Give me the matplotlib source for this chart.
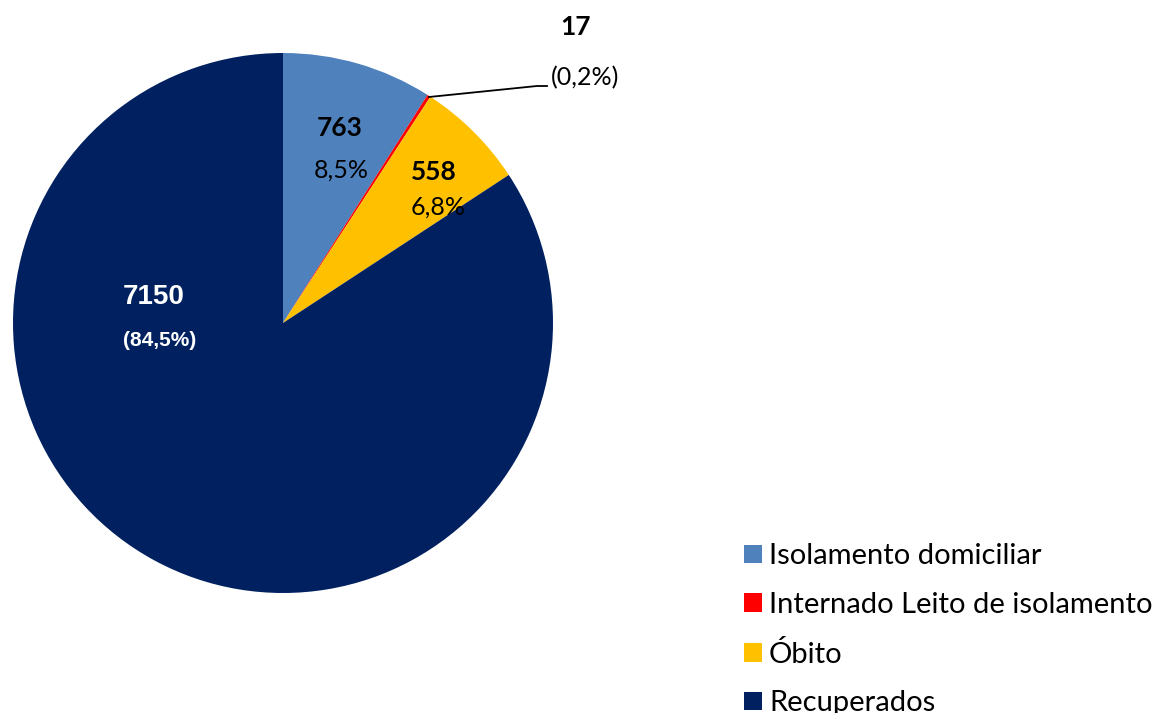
import matplotlib
matplotlib.use("Agg")
import matplotlib.pyplot as plt
from matplotlib.patches import Patch

categorias = ["Isolamento domiciliar", "Internado Leito de isolamento", "Óbito", "Recuperados"]
valores = [763, 17, 558, 7150]
cores = ["#4F81BD", "#FF0000", "#FFC000", "#002060"]
rotulos_valor = ["763", "17", "558", "7150"]
rotulos_pct = ["8,5%", "(0,2%)", "6,8%", "(84,5%)"]

W, H = 1163, 713
fig = plt.figure(figsize=(W / 100, H / 100), dpi=100)

# pie centre at (283, 323) px, radius 270 px
cx, cy, r = 283, 323, 270
ax = fig.add_axes([(cx - r) / W, (H - cy - r) / H, 2 * r / W, 2 * r / H])
ax.pie(valores, colors=cores, startangle=90, counterclock=False, radius=1,
       wedgeprops=dict(linewidth=0))
ax.set_xlim(-1, 1)
ax.set_ylim(-1, 1)
ax.set_aspect("equal")
ax.axis("off")


def d(px, py):
    return (px - cx) / r, (cy - py) / r


fonte = ["Lato", "DejaVu Sans"]

# Isolamento
ax.text(*d(340, 128), rotulos_valor[0], ha="center", va="center", fontsize=19,
        fontweight="bold", family=fonte, color="black")
ax.text(*d(341, 170), rotulos_pct[0], ha="center", va="center", fontsize=18,
        family=fonte, color="black")

# Óbito
ax.text(*d(434, 172), rotulos_valor[2], ha="center", va="center", fontsize=19,
        fontweight="bold", family=fonte, color="black")
ax.text(*d(438, 207), rotulos_pct[2], ha="center", va="center", fontsize=18,
        family=fonte, color="black")

# Internado with leader line
ax.text(*d(575, 27), rotulos_valor[1], ha="center", va="center", fontsize=19,
        fontweight="bold", family=fonte, color="black")
ax.text(*d(585, 78), rotulos_pct[1], ha="center", va="center", fontsize=18,
        family=fonte, color="black")
lx, ly = zip(d(429, 97), d(537, 86), d(547, 86))
ax.plot(lx, ly, color="black", linewidth=1.3, clip_on=False)

# Recuperados
ax.text(*d(154, 297), rotulos_valor[3], ha="center", va="center", fontsize=20,
        fontweight="bold", family="Liberation Sans", color="white")
ax.text(*d(160, 341), rotulos_pct[3], ha="center", va="center", fontsize=15,
        fontweight="bold", family="Liberation Sans", color="white")

handles = [Patch(facecolor=c, edgecolor="none") for c in cores]
fig.legend(handles, categorias, loc="upper left", bbox_to_anchor=(718 / W, 1 - 517 / H),
           frameon=False, prop=dict(family=fonte, size=21), handlelength=0.6,
           handleheight=0.6, handletextpad=0.25, labelspacing=0.78, borderpad=0.4)

fig.savefig("out.png", dpi=100)
